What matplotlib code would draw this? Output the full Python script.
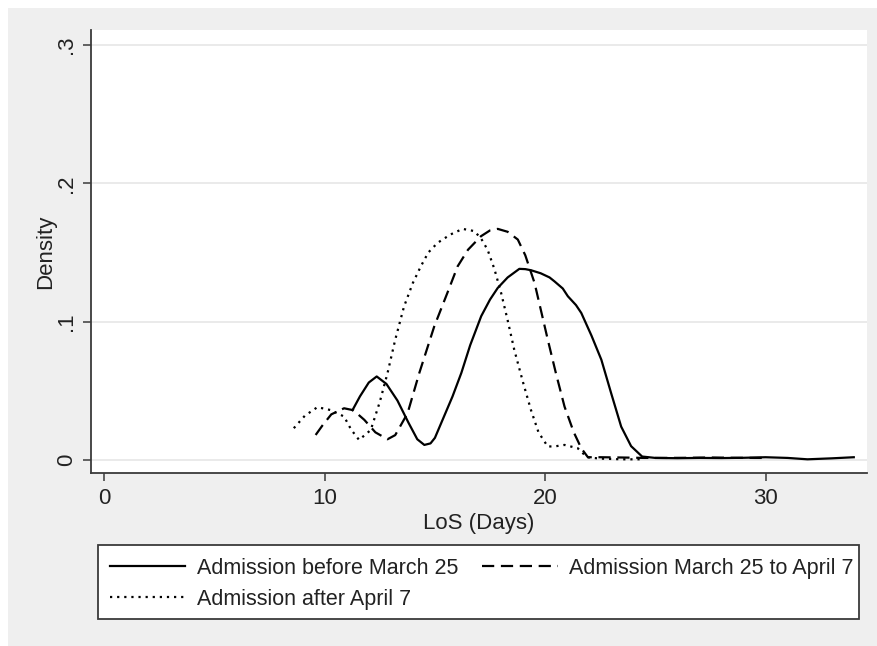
import matplotlib
matplotlib.use("Agg")
import matplotlib.pyplot as plt
from matplotlib.patches import Rectangle
from matplotlib.lines import Line2D

# ---- data ----
before_x = [11.26, 11.6, 12.0, 12.36, 12.8, 13.3, 13.8, 14.2, 14.52, 14.8, 15.0, 15.4, 15.8,
            16.2, 16.6, 17.1, 17.5, 17.85, 18.3, 18.83, 19.1, 19.36, 19.8, 20.2, 20.42, 20.8,
            21.03, 21.4, 21.64, 22.1, 22.55, 23.0, 23.45, 23.9, 24.4, 25.0, 26, 27, 28, 29,
            30, 31, 31.9, 33, 34.0]
before_y = [0.036, 0.046, 0.056, 0.0604, 0.055, 0.043, 0.027, 0.015, 0.0109, 0.012, 0.016,
            0.031, 0.046, 0.063, 0.083, 0.104, 0.116, 0.1244, 0.132, 0.1382, 0.138, 0.1372,
            0.135, 0.132, 0.1292, 0.124, 0.1184, 0.112, 0.1063, 0.090, 0.0725, 0.048, 0.0241,
            0.010, 0.0025, 0.0015, 0.0013, 0.0015, 0.0014, 0.0016, 0.002, 0.0015, 0.0005,
            0.0012, 0.002]

mid_x = [9.59, 9.9, 10.3, 10.88, 11.3, 11.8, 12.3, 12.85, 13.2, 13.76, 14.29, 14.97, 15.57,
         16.03, 16.5, 17.09, 17.5, 17.85, 18.3, 18.76, 19.1, 19.52, 20.12, 20.5, 20.88, 21.3,
         21.64, 21.94, 22.5, 23.5, 24.5, 25.5, 26.5, 27.5, 28.5, 29.5, 30.1]
mid_y = [0.0181, 0.025, 0.033, 0.0374, 0.036, 0.029, 0.020, 0.015, 0.018, 0.0338, 0.0628,
         0.0966, 0.121, 0.140, 0.152, 0.1618, 0.166, 0.1671, 0.165, 0.1594, 0.148, 0.128,
         0.087, 0.062, 0.0386, 0.020, 0.0085, 0.002, 0.002, 0.0018, 0.0015, 0.0015, 0.0016,
         0.0018, 0.0016, 0.0015, 0.0015]

after_x = [8.6, 9.1, 9.67, 10.3, 10.88, 11.2, 11.56, 12.09, 12.5, 12.85, 13.2, 13.6, 14.0,
           14.36, 14.7, 15.12, 15.7, 16.26, 16.79, 17.1, 17.39, 17.7, 18.0, 18.3, 18.6, 19.0,
           19.36, 19.7, 20.12, 20.5, 20.88, 21.48, 21.9, 22.5, 23.5, 24.5]
after_y = [0.023, 0.032, 0.0382, 0.036, 0.0314, 0.022, 0.0145, 0.0217, 0.042, 0.0628, 0.087,
           0.111, 0.128, 0.140, 0.150, 0.157, 0.163, 0.1671, 0.1655, 0.160, 0.152, 0.138,
           0.121, 0.101, 0.0797, 0.056, 0.036, 0.020, 0.0097, 0.0100, 0.0109, 0.0085, 0.002,
           0.001, 0.0005, 0.0005]

labels = ["Admission before March 25", "Admission March 25 to April 7", "Admission after April 7"]
xticks = [0, 10, 20, 30]
xticklabels = ["0", "10", "20", "30"]
yticks = [0, 0.1, 0.2, 0.3]
yticklabels = ["0", ".1", ".2", ".3"]

plt.rcParams['font.family'] = ['Liberation Sans', 'DejaVu Sans']

W, H = 877, 646
FS = 16
LFS = 15.5
fig = plt.figure(figsize=(W / 100, H / 100), dpi=100)
fig.patch.set_facecolor('white')
# grey graph region
fig.patches.append(Rectangle((8 / W, 0), 1 - 8 / W, 1 - 8 / H, transform=fig.transFigure,
                             facecolor='#efefef', edgecolor='none', zorder=-10))
# legend box
fig.patches.append(Rectangle((98 / W, 1 - 619 / H), (859 - 98) / W, (619 - 545) / H,
                             transform=fig.transFigure, facecolor='white',
                             edgecolor='#3a3a3a', linewidth=1.3, zorder=-5))

ax = fig.add_axes([91 / W, 1 - 473 / H, (867 - 91) / W, (473 - 30) / H])
ax.set_facecolor('white')

lw = 1.6
ax.plot(before_x, before_y, color='black', lw=lw, linestyle='-', label=labels[0], zorder=3)
ax.plot(mid_x, mid_y, color='black', lw=lw, linestyle=(0, (5.5, 3.0)), label=labels[1], zorder=3)
ax.plot(after_x, after_y, color='black', lw=lw, linestyle=(0, (1, 2.2)), label=labels[2], zorder=3)

ax.set_xlim(-0.6, 34.6)
ax.set_ylim(-0.0094, 0.3109)
ax.set_xticks(xticks)
ax.set_xticklabels(xticklabels)
ax.set_yticks(yticks)
ax.set_yticklabels(yticklabels, rotation=90, va='center')
for yv in yticks:
    ax.axhline(yv, color='#e8e8e8', lw=1.3, zorder=1)

for s in ['top', 'right']:
    ax.spines[s].set_visible(False)
for s in ['left', 'bottom']:
    ax.spines[s].set_color('#3a3a3a')
    ax.spines[s].set_linewidth(1.3)
ax.tick_params(axis='both', direction='out', length=6, width=1.1, color='#3a3a3a',
               labelsize=FS, labelcolor='#222222')
ax.tick_params(axis='x', pad=5)
ax.tick_params(axis='y', pad=4)

ax.set_xlabel("LoS (Days)", fontsize=FS, color='#222222', labelpad=3)
ax.set_ylabel("Density", fontsize=FS, color='#222222', labelpad=0)

handles = [Line2D([], [], color='black', lw=lw, linestyle='-'),
           Line2D([], [], color='black', lw=lw, linestyle=(0, (1, 2.2))),
           Line2D([], [], color='black', lw=lw, linestyle=(0, (5.5, 3.0)))]
leg_labels = [labels[0], labels[2], labels[1]]
leg = fig.legend(handles, leg_labels, ncol=2, loc='upper left',
                 bbox_to_anchor=(110 / W, 1 - 558 / H),
                 borderaxespad=0, borderpad=0, fontsize=LFS, handlelength=3.5,
                 handletextpad=0.55, labelspacing=0.45, columnspacing=1.1,
                 frameon=False)
for t in leg.get_texts():
    t.set_color('#222222')

fig.savefig("out.png", dpi=100)
